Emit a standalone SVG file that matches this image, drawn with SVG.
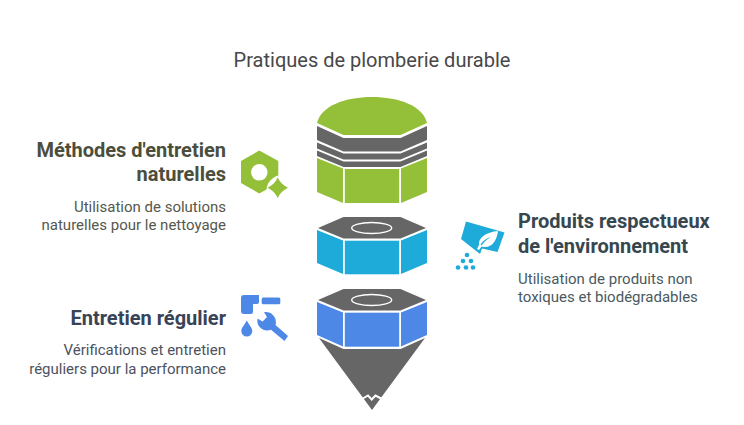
<svg xmlns="http://www.w3.org/2000/svg" width="744" height="425" viewBox="0 0 744 425">
<style>
text{font-family:Roboto,"Liberation Sans",sans-serif}
.t{font-size:20px;fill:#484848}
.h1{font-size:20px;font-weight:700;fill:#4b4e3c}
.h2{font-size:20px;font-weight:700;fill:#37474f}
.h3{font-size:20px;font-weight:700;fill:#3a4356}
.b1{font-size:15px;fill:#55584c}
.b2{font-size:15px;fill:#4a5a60}
.b3{font-size:15px;fill:#4c5260}
.e{text-anchor:end}
.g{fill:#666}.gr{fill:#94bf38}.c{fill:#1eabda}.bl{fill:#4e88e7}
.r{fill:none;stroke:#fff;stroke-width:1.4}
</style>
<rect width="744" height="425" fill="#fff"/>
<text class="t" x="372" y="67" text-anchor="middle">Pratiques de plomberie durable</text>
<g id="stack-top">
<path class="gr" d="M317 123C321 106 345 97 372 97S423 106 427 123L400.500 135H343.500Z"/>
<path class="g" d="M317 126L343.500 138H400.500L427 126V140L400.500 151.500H343.500L317 140Z"/>
<path class="g" d="M317 142.500L343.500 153.500H400.500L427 142.500V148.500L400.500 159.500H343.500L317 148.500Z"/>
<path class="g" d="M317 150.500L343.500 161.500H400.500L427 150.500V156L400.500 167H343.500L317 156Z"/>
<path class="gr" d="M317 158L343 168.500V203L317 192Z"/>
<rect class="gr" x="344.800" y="169" width="54.400" height="34"/>
<path class="gr" d="M427 158L401 168.500V203L427 192Z"/>
</g>
<g id="stack-middle">
<path class="g" d="M318 228L343.500 217H400.500L426 228L400.500 238.500H343.500Z"/>
<ellipse class="r" cx="371.700" cy="228" rx="20" ry="5.500"/>
<path class="c" d="M317 230L343 240.500V274L317 263Z"/>
<rect class="c" x="344.800" y="240.700" width="54.400" height="33.600"/>
<path class="c" d="M427 230L401 240.500V274L427 263Z"/>
</g>
<g id="stack-bottom">
<path class="g" d="M318 300L343.500 289H400.500L426 300L400.500 310.500H343.500Z"/>
<ellipse class="r" cx="371.700" cy="300" rx="20" ry="5.500"/>
<path class="bl" d="M317 302L343 312.500V346.500L317 335Z"/>
<rect class="bl" x="344.800" y="312.700" width="54.400" height="34"/>
<path class="bl" d="M427 302L401 312.500V346.500L427 335Z"/>
<path class="g" d="M319 338L343.500 349H400.500L425 338L372 410Z"/>
<path fill="none" stroke="#fff" stroke-width="2" d="M362 399L368 395.500L371.700 399.500L375.500 395.500L382 399"/>
</g>
<g id="node-naturelles">
<text class="h1 e" x="226" y="157">Méthodes d'entretien</text>
<text class="h1 e" x="226" y="181">naturelles</text>
<text class="b1 e" x="226" y="212">Utilisation de solutions</text>
<text class="b1 e" x="226" y="230">naturelles pour le nettoyage</text>
<path class="gr" fill-rule="evenodd" d="M259.300 150.500L278.300 161V175.500C272 177 267 183 266.500 189.500L259.300 193.500L241 183V161ZM259.300 164A8.300 8.300 0 1 0 259.310 180.600A8.300 8.300 0 1 0 259.300 164Z"/>
<path class="gr" d="M277.700 177.500C280 182 283 185.500 288 187.700C283 190 280 193.500 277.700 198C275.500 193.500 272.500 190 267.500 187.700C272.500 185.500 275.500 182 277.700 177.500Z"/>
</g>
<g id="node-produits">
<text class="h2" x="518" y="228">Produits respectueux</text>
<text class="h2" x="518" y="253">de l'environnement</text>
<text class="b2" x="518" y="284">Utilisation de produits non</text>
<text class="b2" x="518" y="302">toxiques et biodégradables</text>
<path class="c" d="M466 221.500L504.500 232.500L497.500 252L482 248.500L480 254L461 239Z"/>
<path fill="#fff" fill-rule="evenodd" d="M498 231C486 232 478 238 479 245L477 249L479 250L481.500 246.500C491 249 496.500 242 498 231ZM491 237C487 239 484 242 481.500 245.500L480.500 244.500C483 240.500 487 238 491 237Z"/>
<circle class="c" cx="467" cy="255" r="2.300"/>
<circle class="c" cx="463" cy="261" r="2.300"/>
<circle class="c" cx="471" cy="261" r="2.300"/>
<circle class="c" cx="458" cy="267.500" r="2.300"/>
<circle class="c" cx="466" cy="267.500" r="2.300"/>
<circle class="c" cx="473" cy="267.500" r="2.300"/>
</g>
<g id="node-regulier">
<text class="h3 e" x="226" y="325">Entretien régulier</text>
<text class="b3 e" x="226" y="355">Vérifications et entretien</text>
<text class="b3 e" x="226" y="374">réguliers pour la performance</text>
<path class="bl" d="M244 295H259V302A2 2 0 0 1 257 304H253V312A2 2 0 0 1 251 314H244A3 3 0 0 1 241 311V298A3 3 0 0 1 244 295Z"/>
<rect class="bl" x="261.700" y="297.500" width="18.600" height="6.800" rx="1.500"/>
<path class="bl" d="M246.800 320.500C249 325 252.300 327.500 252.300 331A5.500 5.500 0 0 1 241.300 331C241.300 327.500 244.600 325 246.800 320.500Z"/>
<path class="bl" d="M264 312.300A10 10 0 0 1 275.500 325L288 336L284.500 341L271 329.800A10 10 0 0 1 257.500 318.500L262.500 321.500L267 317Z"/>
</g>
</svg>
